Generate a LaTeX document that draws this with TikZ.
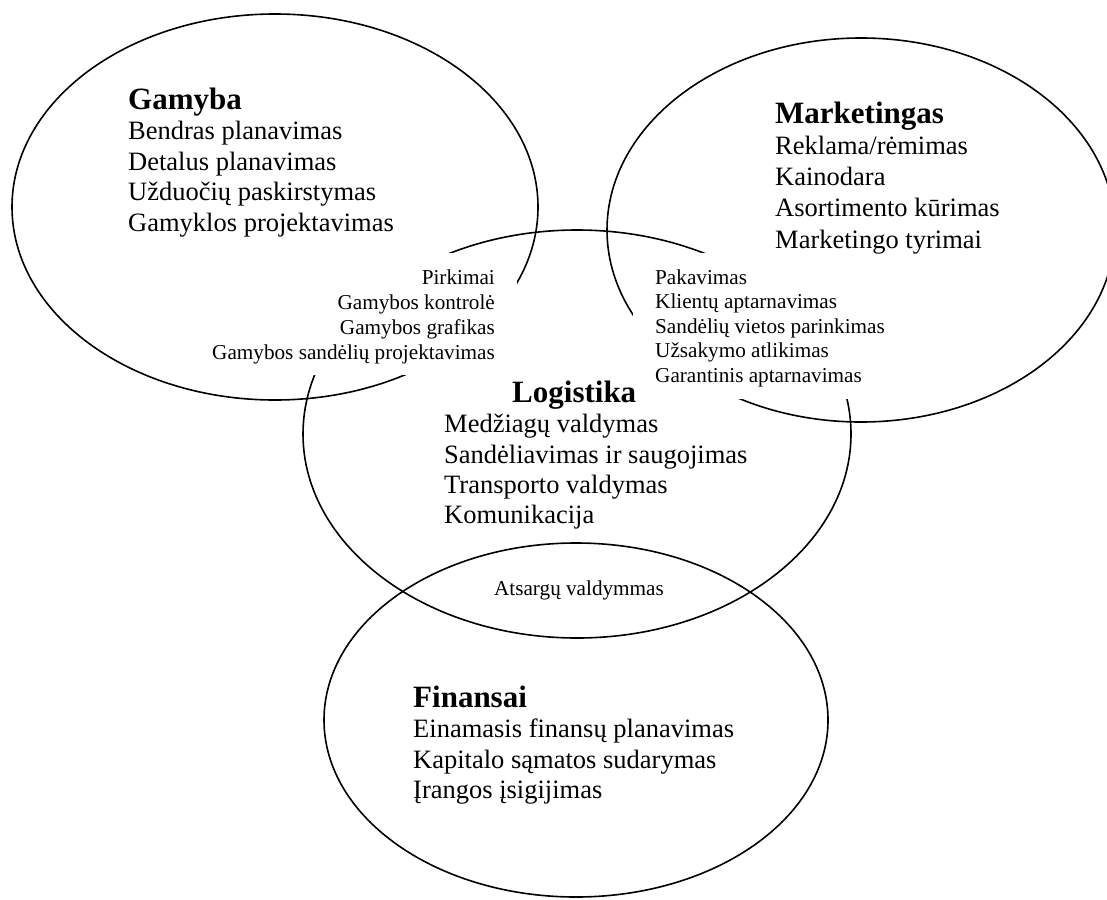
\documentclass[tikz,border=0pt]{standalone}
\usepackage{fontspec}
\setmainfont{Liberation Serif}
\usetikzlibrary{shapes.geometric}
\tikzset{
  venn/.style={draw=black, line width=1.6pt, ellipse, inner sep=0pt},
  maskbox/.style={fill=white, draw=none},
  head/.style={font=\fontsize{31}{36}\selectfont\bfseries, inner sep=0pt, anchor=base west},
  body/.style={font=\fontsize{26.5}{31}\selectfont, inner sep=0pt, anchor=base west},
  smallL/.style={font=\fontsize{21.2}{25}\selectfont, inner sep=0pt, anchor=base west},
  smallR/.style={font=\fontsize{21.2}{25}\selectfont, inner sep=0pt, anchor=base east},
  smallC/.style={font=\fontsize{21.2}{25}\selectfont, inner sep=0pt, anchor=base},
}
\begin{document}
\begin{tikzpicture}[x=1pt,y=-1pt]
\fill[white] (0,0) rectangle (1107,899);
\useasboundingbox (0,0) rectangle (1107,899);

% ellipses
\node[venn, minimum width=526pt, minimum height=386pt] (gamyba) at (275,207) {};
\node[venn, minimum width=508pt, minimum height=384pt] (marketing) at (861,230) {};
\node[venn, minimum width=548pt, minimum height=408pt] (logistika) at (577,434) {};
\node[venn, minimum width=504pt, minimum height=354pt] (finansai) at (576,720) {};

% white masks of the shared text areas
\fill[maskbox] (205,253) rectangle (517,375);
\fill[maskbox] (633,253) rectangle (900,399);

% Gamyba
\node[head] (gh) at (128,109) {Gamyba};
\node[body] (g1) at (128,139.5) {Bendras planavimas};
\node[body] (g2) at (128,170) {Detalus planavimas};
\node[body] (g3) at (128,200.5) {Užduočių paskirstymas};
\node[body] (g4) at (128,231) {Gamyklos projektavimas};

% Gamyba / Logistika
\node[smallR] (gl1) at (495,284) {Pirkimai};
\node[smallR] (gl2) at (495,309) {Gamybos kontrolė};
\node[smallR] (gl3) at (495,334) {Gamybos grafikas};
\node[smallR] (gl4) at (495,359) {Gamybos sandėlių projektavimas};

% Marketingas
\node[head] (mh) at (775,123) {Marketingas};
\node[body] (m1) at (775,154) {Reklama/rėmimas};
\node[body] (m2) at (775,185) {Kainodara};
\node[body] (m3) at (775,216.5) {Asortimento kūrimas};
\node[body] (m4) at (775,248) {Marketingo tyrimai};

% Marketingas / Logistika
\node[smallL] (ml1) at (655,284) {Pakavimas};
\node[smallL] (ml2) at (655,308.5) {Klientų aptarnavimas};
\node[smallL] (ml3) at (655,333) {Sandėlių vietos parinkimas};
\node[smallL] (ml4) at (655,357.5) {Užsakymo atlikimas};
\node[smallL] (ml5) at (655,382) {Garantinis aptarnavimas};

% Logistika
\node[head] (lh) at (512,402) {Logistika};
\node[body] (l1) at (444,432.5) {Medžiagų valdymas};
\node[body] (l2) at (444,463) {Sandėliavimas ir saugojimas};
\node[body] (l3) at (444,493) {Transporto valdymas};
\node[body] (l4) at (444,523) {Komunikacija};

% Logistika / Finansai
\node[smallC] (lf) at (579,595) {Atsargų valdymmas};

% Finansai
\node[head] (fh) at (413,707) {Finansai};
\node[body] (f1) at (413,737.5) {Einamasis finansų planavimas};
\node[body] (f2) at (413,768) {Kapitalo sąmatos sudarymas};
\node[body] (f3) at (413,798) {Įrangos įsigijimas};
\end{tikzpicture}
\end{document}
